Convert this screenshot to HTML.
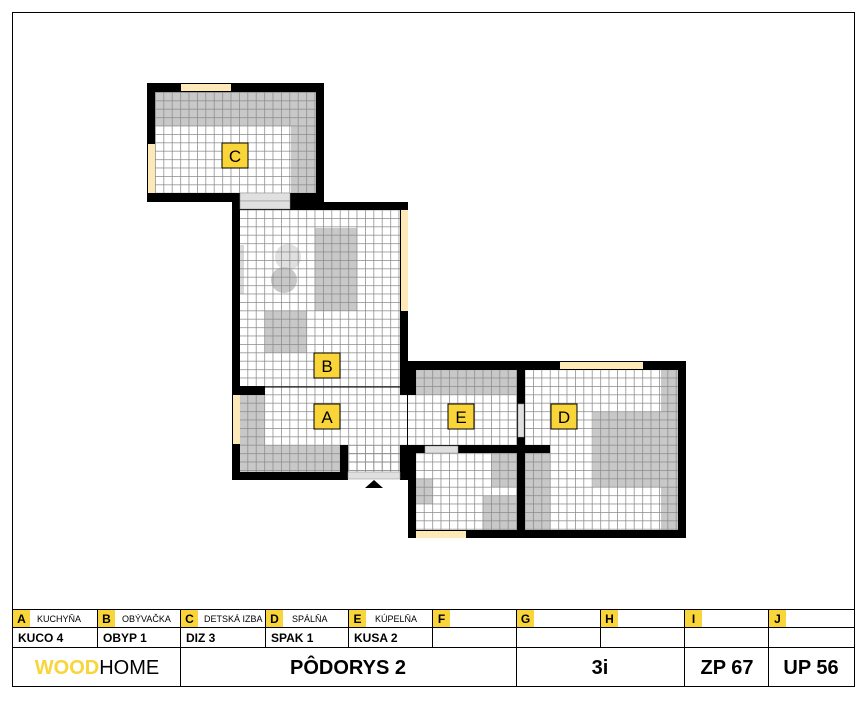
<!DOCTYPE html>
<html><head><meta charset="utf-8">
<style>
html,body{margin:0;padding:0;background:#fff;}
body{width:866px;height:698px;overflow:hidden;font-family:"Liberation Sans",sans-serif;}
</style></head><body>
<svg width="866" height="698" viewBox="0 0 866 698" xmlns="http://www.w3.org/2000/svg" font-family="Liberation Sans, sans-serif">
<defs>
<pattern id="g" x="155" y="92" width="8.4" height="8.4" patternUnits="userSpaceOnUse">
<path d="M0 0H8.4M0 0V8.4" stroke="#8a8a8a" stroke-width="1.5" fill="none"/>
</pattern>
</defs>
<rect x="12.5" y="12.5" width="842" height="674" fill="#fff" stroke="#000" stroke-width="1"/>

<g fill="#c8c8c8">
<rect x="155" y="92" width="161" height="34"/>
<rect x="291" y="126" width="25" height="67"/>
<rect x="315" y="228" width="42" height="83"/>
<rect x="265" y="311" width="42" height="42"/>
<rect x="240" y="245" width="4" height="49" fill="#d8d8d8"/>
<rect x="240" y="395" width="25" height="50"/>
<rect x="240" y="445" width="100" height="27"/>
<rect x="416" y="370" width="101" height="25"/>
<rect x="491" y="453" width="26" height="34"/>
<rect x="416" y="479" width="17" height="25"/>
<rect x="483" y="496" width="34" height="34"/>
<rect x="661" y="370" width="17" height="160"/>
<rect x="593" y="412" width="68" height="75"/>
<rect x="525" y="453" width="25" height="77"/>
</g>
<circle cx="288" cy="257" r="13" fill="#e0e0e0"/>
<circle cx="284" cy="280" r="13" fill="#c8c8c8"/>

<g fill="url(#g)">
<rect x="155" y="92" width="161" height="101"/>
<rect x="240" y="210" width="160" height="262"/>
<rect x="348" y="445" width="52" height="26"/>
<rect x="400" y="395" width="117" height="50"/>
<rect x="416" y="370" width="101" height="25"/>
<rect x="416" y="453" width="101" height="77"/>
<rect x="525" y="370" width="153" height="160"/>
</g>
<line x1="265" y1="387" x2="400" y2="387" stroke="#000" stroke-width="1"/>
<line x1="407.5" y1="395" x2="407.5" y2="445" stroke="#000" stroke-width="1"/>

<g fill="#000">
<rect x="147" y="83" width="177" height="9"/>
<rect x="147" y="83" width="8" height="119"/>
<rect x="316" y="83" width="8" height="127"/>
<rect x="147" y="193" width="93" height="9"/>
<rect x="290" y="193" width="34" height="17"/>
<rect x="232" y="202" width="176" height="8"/>
<rect x="232" y="202" width="8" height="278"/>
<rect x="400" y="202" width="8" height="193"/>
<rect x="232" y="386" width="33" height="9"/>
<rect x="232" y="472" width="116" height="8"/>
<rect x="340" y="445" width="8" height="35"/>
<rect x="400" y="361" width="286" height="9"/>
<rect x="400" y="361" width="16" height="34"/>
<rect x="517" y="370" width="8" height="83"/>
<rect x="400" y="445" width="150" height="8"/>
<rect x="400" y="445" width="8" height="35"/>
<rect x="408" y="445" width="8" height="93"/>
<rect x="517" y="453" width="8" height="77"/>
<rect x="408" y="530" width="278" height="8"/>
<rect x="678" y="361" width="8" height="177"/>
</g>
<g fill="#fde9b8">
<rect x="181" y="84" width="50" height="7"/>
<rect x="148" y="144" width="7" height="49"/>
<rect x="401" y="210" width="7" height="101"/>
<rect x="233" y="395" width="7" height="49"/>
<rect x="560" y="362" width="83" height="7"/>
<rect x="416" y="531" width="50" height="7"/>
</g>
<g fill="#e0e0e0" stroke="#888" stroke-width="0.5">
<rect x="240" y="193" width="50" height="8"/>
<rect x="240" y="201" width="50" height="8"/>
<rect x="348" y="472" width="52" height="7"/>
<rect x="518" y="404" width="6" height="33"/>
<rect x="425" y="446" width="33" height="7"/>
</g>
<polygon points="374,480 383,488 365,488" fill="#000"/>

<g font-size="17" text-anchor="middle">
<rect x="222" y="143" width="26" height="25" fill="#f9d53a" stroke="#000"/><text x="235" y="162">C</text>
<rect x="314" y="353" width="26" height="25" fill="#f9d53a" stroke="#000"/><text x="327" y="372">B</text>
<rect x="314" y="404" width="26" height="25" fill="#f9d53a" stroke="#000"/><text x="327" y="423">A</text>
<rect x="448" y="404" width="26" height="25" fill="#f9d53a" stroke="#000"/><text x="461" y="423">E</text>
<rect x="551" y="404" width="26" height="25" fill="#f9d53a" stroke="#000"/><text x="564" y="423">D</text>
</g>

<g stroke="#000" stroke-width="1">
<line x1="12" y1="609.5" x2="855" y2="609.5"/>
<line x1="12" y1="627.5" x2="855" y2="627.5"/>
<line x1="12" y1="647.5" x2="855" y2="647.5"/>
<line x1="97.5" y1="609" x2="97.5" y2="647"/>
<line x1="180.5" y1="609" x2="180.5" y2="687"/>
<line x1="265.5" y1="609" x2="265.5" y2="647"/>
<line x1="348.5" y1="609" x2="348.5" y2="647"/>
<line x1="432.5" y1="609" x2="432.5" y2="647"/>
<line x1="516.5" y1="609" x2="516.5" y2="687"/>
<line x1="600.5" y1="609" x2="600.5" y2="647"/>
<line x1="684.5" y1="609" x2="684.5" y2="687"/>
<line x1="768.5" y1="609" x2="768.5" y2="687"/>
</g>
<g fill="#f9d53a">
<rect x="13" y="610" width="17" height="17"/><rect x="98" y="610" width="17" height="17"/>
<rect x="181" y="610" width="17" height="17"/><rect x="266" y="610" width="17" height="17"/>
<rect x="349" y="610" width="17" height="17"/><rect x="433" y="610" width="17" height="17"/>
<rect x="517" y="610" width="17" height="17"/><rect x="601" y="610" width="17" height="17"/>
<rect x="685" y="610" width="17" height="17"/><rect x="769" y="610" width="17" height="17"/>
</g>
<g font-size="12" font-weight="bold" text-anchor="middle">
<text x="21.5" y="623">A</text><text x="106.5" y="623">B</text><text x="189.5" y="623">C</text>
<text x="274.5" y="623">D</text><text x="357.5" y="623">E</text><text x="441.5" y="623">F</text>
<text x="525.5" y="623">G</text><text x="609.5" y="623">H</text><text x="693.5" y="623">I</text><text x="777.5" y="623">J</text>
</g>
<g font-size="9">
<text x="37" y="622">KUCHYŇA</text><text x="122" y="622">OBÝVAČKA</text><text x="204" y="622">DETSKÁ IZBA</text>
<text x="292" y="622">SPÁLŇA</text><text x="375" y="622">KÚPELŇA</text>
</g>
<g font-size="12" font-weight="bold">
<text x="18" y="642">KUCO 4</text><text x="103" y="642">OBYP 1</text><text x="186" y="642">DIZ 3</text>
<text x="271" y="642">SPAK 1</text><text x="354" y="642">KUSA 2</text>
</g>
<text x="97" y="674" font-size="20" text-anchor="middle"><tspan fill="#f9d53a" font-weight="bold">WOOD</tspan><tspan fill="#000">HOME</tspan></text>
<text x="348" y="674" font-size="20" font-weight="bold" text-anchor="middle">PÔDORYS 2</text>
<text x="600" y="674" font-size="20" font-weight="bold" text-anchor="middle">3i</text>
<text x="727" y="674" font-size="20" font-weight="bold" text-anchor="middle">ZP 67</text>
<text x="811" y="674" font-size="20" font-weight="bold" text-anchor="middle">UP 56</text>
</svg>
</body></html>
